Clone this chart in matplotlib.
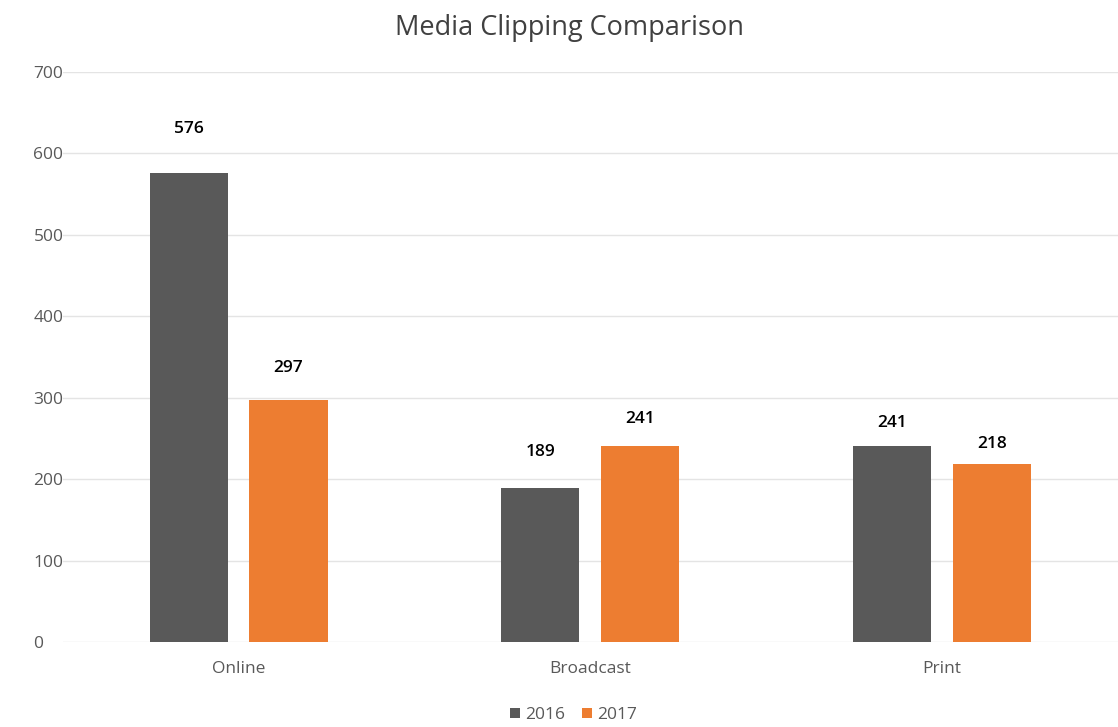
import matplotlib.pyplot as plt
import numpy as np

plt.rcParams['font.family'] = ['Open Sans', 'DejaVu Sans']

categories = ["Online", "Broadcast", "Print"]
values_2016 = [576, 189, 241]
values_2017 = [297, 241, 218]
# pixel offsets of the value labels above each bar (as in the source image)
label_pad_2016 = [44, 36, 23]
label_pad_2017 = [32, 27, 20]

fig = plt.figure(figsize=(11.18, 7.27), dpi=100)
ax = fig.add_axes([0.056, 0.117, 0.944, 0.784])

x = np.arange(len(categories))
w = 0.222
off = 0.142
b1 = ax.bar(x - off, values_2016, w, color='#595959', label='2016', zorder=3)
b2 = ax.bar(x + off, values_2017, w, color='#ED7D31', label='2017', zorder=3)

for bars, vals, pads in [(b1, values_2016, label_pad_2016), (b2, values_2017, label_pad_2017)]:
    for b, v, p in zip(bars, vals, pads):
        ax.annotate(str(v), (b.get_x() + b.get_width() / 2, v), xytext=(0, p),
                    textcoords='offset pixels', ha='center', va='center',
                    fontsize=12.5, color='#000000', fontweight='semibold')

ax.set_xlim(-0.5, 2.5)
ax.set_ylim(0, 700)
ax.set_yticks(range(0, 701, 100))
ax.set_xticks(x)
ax.set_xticklabels(categories)
ax.grid(axis='y', color='#E4E4E4', linewidth=1, zorder=0)
for s in ax.spines.values():
    s.set_visible(False)
ax.tick_params(axis='both', length=0, colors='#595959', labelsize=12.5)
ax.tick_params(axis='x', pad=14)
ax.tick_params(axis='y', pad=21)
for lab in ax.get_yticklabels():
    lab.set_horizontalalignment('left')

fig.text(0.509, 0.961, 'Media Clipping Comparison', ha='center', va='center',
         fontsize=19.5, color='#404040')
fig.legend(loc='center', bbox_to_anchor=(0.513, 0.016), ncol=2, frameon=False,
           fontsize=12.5, handlelength=0.55, handleheight=0.55, handletextpad=0.3,
           columnspacing=1.0, labelcolor='#595959')

fig.savefig('out.png', dpi=100)
